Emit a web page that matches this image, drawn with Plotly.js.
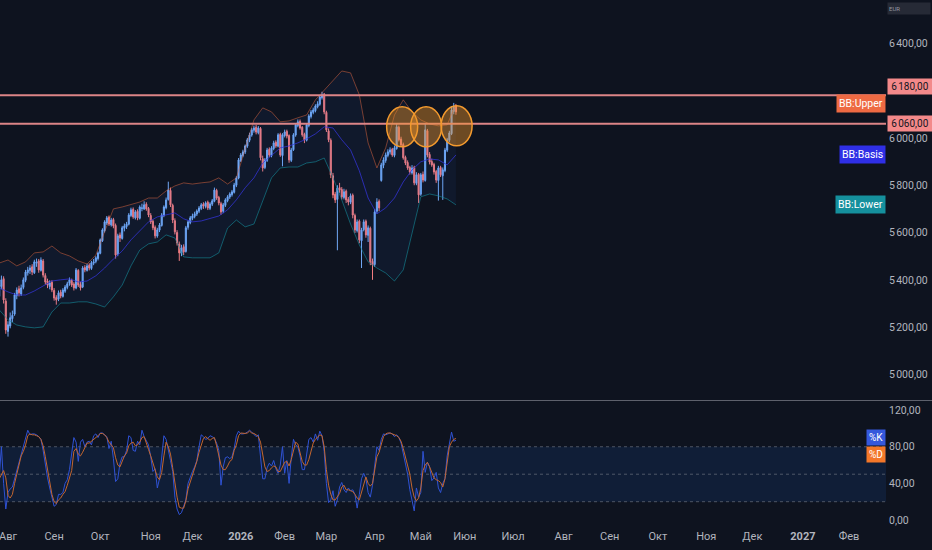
<!DOCTYPE html>
<html><head><meta charset="utf-8">
<script src="https://cdn.plot.ly/plotly-3.0.1.min.js"></script>
<style>html,body{margin:0;padding:0;background:#0e131f;}#chart{width:932px;height:550px;}</style>
</head><body><div id="chart"></div>
<script>
const firstDay = '2025-07-28';
const holidays = ['2025-09-01','2025-11-27','2025-12-25','2026-01-01','2026-01-19','2026-02-16','2026-04-03','2026-05-25'];

const openP = [
5330,5372,5405,5310,5182,5205,5236,5255,5333,5362,
5340,5368,5398,5430,5440,5455,5430,5470,5480,5440,
5480,5418,5395,5372,5390,5355,5325,5318,5348,5330,
5352,5368,5385,5398,5382,5365,5440,5380,5370,5452,
5440,5462,5448,5470,5478,5490,5512,5565,5608,5640,
5665,5632,5655,5630,5510,5590,5575,5618,5625,5635,
5672,5698,5662,5690,5660,5702,5700,5720,5702,5672,
5648,5622,5585,5610,5630,5672,5705,5740,5778,5715,
5650,5600,5552,5512,5540,5520,5622,5642,5660,5668,
5678,5690,5702,5720,5710,5728,5702,5720,5732,5778,
5748,5722,5690,5715,5735,5750,5760,5770,5800,5830,
5905,5926,5940,5965,5990,6012,6032,6045,6022,6040,
5912,5875,5905,5952,5925,5955,5982,5965,6015,5925,
6010,6028,6010,5905,5950,6012,6052,6070,6045,6015,
5990,6052,6090,6108,6115,6132,6142,6170,6185,6108,
6030,5990,5840,5762,5740,5790,5782,5748,5775,5740,
5728,5758,5672,5608,5648,5565,5612,5648,5588,5618,
5478,5465,5690,5732,5820,5884,5905,5926,5940,5952,
5926,5955,6045,5995,5972,5918,5896,5875,5852,5875,
5808,5846,5762,5846,5820,6030,5930,5900,5888,5858,
5820,5875,5840,5862,5948,5990,6018,6112,6138];
const highP = [
5395,5418,5415,5322,5225,5262,5270,5345,5368,5375,
5380,5410,5442,5455,5462,5466,5485,5490,5488,5495,
5488,5428,5405,5398,5398,5365,5335,5355,5358,5365,
5378,5392,5410,5405,5390,5450,5445,5392,5458,5462,
5468,5470,5480,5488,5500,5520,5575,5618,5652,5670,
5672,5662,5662,5638,5595,5600,5628,5638,5645,5682,
5705,5706,5695,5698,5715,5722,5732,5728,5708,5682,
5655,5630,5620,5640,5682,5715,5748,5815,5790,5722,
5660,5610,5562,5548,5550,5628,5652,5670,5680,5688,
5698,5712,5725,5728,5732,5735,5728,5742,5790,5785,
5755,5730,5725,5745,5758,5770,5780,5810,5838,5915,
5936,5950,5972,6000,6022,6042,6052,6055,6050,6046,
5925,5915,5958,5960,5965,5988,5990,6020,6022,6020,
6035,6035,6015,5958,6020,6062,6078,6078,6050,6022,
6062,6100,6118,6128,6142,6155,6180,6195,6190,6115,
6040,5998,5852,5772,5800,5810,5792,5785,5782,5750,
5765,5765,5680,5655,5655,5620,5655,5655,5630,5625,
5490,5700,5745,5740,5895,5918,5938,5952,5960,5958,
5968,6060,6052,6005,5980,5925,5905,5882,5885,5882,
5855,5852,5852,5858,6062,6038,5940,5912,5895,5865,
5882,5882,5875,5958,6000,6030,6135,6148,6142];
const lowP = [
5320,5360,5300,5172,5160,5195,5222,5248,5318,5330,
5332,5360,5390,5418,5425,5420,5425,5455,5430,5435,
5410,5380,5365,5360,5348,5312,5295,5310,5322,5325,
5345,5360,5375,5370,5355,5360,5370,5355,5365,5432,
5435,5440,5442,5462,5470,5482,5508,5560,5600,5632,
5628,5625,5618,5490,5500,5560,5570,5605,5615,5630,
5665,5658,5655,5652,5655,5690,5695,5692,5665,5636,
5610,5575,5578,5602,5625,5665,5698,5735,5708,5640,
5592,5545,5480,5500,5505,5515,5612,5635,5652,5660,
5670,5682,5695,5700,5702,5695,5695,5712,5728,5738,
5715,5675,5682,5708,5728,5742,5752,5765,5792,5825,
5898,5918,5932,5958,5982,6005,6022,6015,6015,5905,
5858,5868,5898,5918,5918,5948,5958,5960,5920,5880,
6002,5998,5895,5898,5945,6005,6045,6035,6005,5978,
5985,6045,6082,6100,6108,6125,6136,6162,6100,6025,
5982,5830,5745,5725,5525,5768,5740,5740,5725,5715,
5720,5660,5598,5600,5555,5450,5605,5578,5560,5462,
5400,5455,5680,5690,5815,5872,5895,5918,5930,5920,
5918,5950,5985,5962,5908,5885,5865,5845,5845,5800,
5800,5725,5755,5812,5815,5918,5888,5878,5845,5810,
5735,5835,5738,5855,5940,5982,6012,6100,6098];
const closeP = [
5378,5400,5315,5188,5210,5240,5250,5336,5357,5345,
5366,5400,5433,5442,5450,5433,5476,5476,5442,5484,
5420,5391,5378,5387,5357,5323,5315,5345,5332,5357,
5370,5383,5400,5378,5366,5442,5378,5366,5450,5442,
5459,5450,5472,5476,5493,5514,5569,5611,5645,5662,
5636,5653,5628,5505,5586,5577,5620,5628,5636,5674,
5696,5666,5687,5662,5708,5704,5717,5700,5674,5645,
5620,5586,5611,5632,5674,5708,5738,5780,5717,5653,
5603,5556,5514,5535,5518,5620,5645,5662,5670,5679,
5691,5704,5717,5712,5725,5704,5721,5734,5780,5746,
5725,5687,5717,5738,5751,5763,5772,5801,5831,5907,
5928,5941,5966,5992,6013,6034,6042,6025,6042,5916,
5873,5907,5949,5928,5958,5979,5966,6013,5928,6013,
6025,6008,5907,5949,6013,6055,6068,6042,6013,5992,
6055,6093,6110,6118,6135,6144,6173,6182,6110,6034,
5992,5844,5759,5738,5788,5780,5751,5772,5738,5729,
5755,5674,5611,5645,5569,5611,5645,5590,5620,5476,
5463,5687,5729,5704,5886,5907,5928,5941,5949,5928,
5958,6047,5992,5970,5916,5894,5873,5856,5873,5810,
5844,5759,5844,5822,6034,5928,5898,5886,5856,5822,
5873,5844,5865,5949,5992,6021,6118,6135,6110];

// Bollinger bands, read every 4th bar
const bbUpper = [5471,5484,5459,5476,5514,5518,5543,5514,5501,5480,5467,5505,5603,5700,5708,5717,5729,5746,5746,5776,5797,5810,5805,5810,5814,5831,5805,5831,5949,6076,6127,6110,6068,6072,6085,6097,6161,6203,6245,6283,6275,6182,5979,5873,5958,6097,6161,6110,6076,6059,6051,6055,6144];
const bbBasis = [5366,5349,5336,5336,5353,5374,5395,5400,5404,5391,5395,5417,5450,5488,5522,5569,5607,5645,5666,5674,5683,5658,5645,5649,5658,5670,5696,5738,5789,5831,5894,5924,5958,5966,5979,5996,6017,6047,6042,5992,5949,5861,5746,5679,5704,5746,5814,5865,5899,5911,5907,5886,5928];
const bbLower = [5273,5231,5209,5201,5197,5201,5264,5302,5302,5307,5307,5298,5285,5328,5378,5459,5526,5552,5560,5590,5577,5497,5493,5493,5493,5514,5619,5653,5624,5636,5738,5831,5873,5877,5877,5894,5899,5915,5831,5738,5636,5548,5476,5450,5429,5395,5442,5590,5751,5763,5755,5742,5717];

const stochK = [
47,80,40,12,30,34,36,45,55,65,
73,83,92,98,93,94,94,93,91,88,
76,60,46,35,24,15,17,28,28,30,
40,44,55,75,90,85,64,85,88,80,
85,86,82,92,94,90,95,95,93,91,
78,86,67,42,45,62,69,69,76,92,
90,76,75,86,82,98,91,87,82,69,
53,56,35,45,70,92,88,78,65,53,
25,12,6,8,14,22,40,47,53,58,
65,80,93,91,88,89,92,91,89,84,
76,38,58,68,69,67,69,78,92,97,
94,94,94.5,96,98,96,93,91,93,70,
45,45,57,62,59,65,56,51,60,80,
51,65,40,68,88,82,80,70,55,55,
70,88,90,85,94,87,97,92,75,40,
19,22,32,15,22,36,41,33,30,35,
32,33,28,13,28,45,51,45,30,25,
38,62,80,76,88,94,93,94,95,94,
91,93,90,84,72,63,50,33,22,10,
35,25,30,75,52,63,58,43,46,52,
35,30,40,45,70,84,96,86,87];
const stochD = [
45,50,54,46,27,24,28,40,50,62,
70,75,82,92,94,93,93,92,91,88,
81,69,56,45,28,20,18,22,24,28,
31,38,45,54,75,78,72,70,74,80,
84,84,86,87,89,92,94.5,94.5,93,90,
85,82,79,68,60,58,64,70,73,81,
84,85,81,82,85,90,91,85,77,70,
62,53,47,44,52,70,85,80,72,57,
40,25,14,13,13,21,34,41,50,56,
64,74,83,89,91,89,87,89,90,81,
72,60,55,55,59,64,66,76,82,92,
95,94.5,94.5,95,97,95,94.5,93,91,85,
69,58,53,54,57,59,58,53,53,59,
63,64,59,66,76,85,83,73,64,60,
60,66,75,84,88,90,93,92,80,55,
38,28,22,22,25,29,36,38,33,33,
32,31,28,24,22,30,38,47,40,37,
40,55,69,74,83,91,94,95,95,94,
93,92,90,86,78,68,58,50,35,25,
21,24,35,54,60,63,58,52,46,44,
43,41,36,45,60,80,85,88,89];

const monthTicks = ['2025-08-01','2025-09-02','2025-10-01','2025-11-03','2025-12-01','2026-01-02','2026-02-02','2026-03-02','2026-04-01','2026-05-01','2026-06-01','2026-07-01','2026-08-03','2026-09-01','2026-10-01','2026-11-02','2026-12-01','2027-01-01','2027-02-01'];
const monthLabels = ['Авг','Сен','Окт','Ноя','Дек','<b>2026</b>','Фев','Мар','Апр','Май','Июн','Июл','Авг','Сен','Окт','Ноя','Дек','<b>2027</b>','Фев'];
const priceTicks = [5000,5200,5400,5600,5800,6000,6400];
const stochTicks = [0,40,80,120];
const levels = [6180, 6060];
const circleDates = ['2026-04-20 12:00','2026-05-05 10:00','2026-05-26 07:00'];
const circlePrices = [6047, 6047, 6051];

function fmt(v){
  const s = v.toFixed(2).split('.');
  return s[0].replace(/\B(?=(\d{3})+(?!\d))/g,'\u202f') + ',' + s[1];
}

const dates = [];
{
  const d = new Date(firstDay + 'T00:00:00Z');
  while (dates.length < closeP.length) {
    const dow = d.getUTCDay();
    const iso = d.toISOString().slice(0,10);
    if (dow !== 0 && dow !== 6 && !holidays.includes(iso)) dates.push(iso);
    d.setUTCDate(d.getUTCDate() + 1);
  }
}
const bandDates = dates.filter((_, i) => i % 4 === 0);

const FONT = 'Roboto, sans-serif';
const UP = '#72a9f6', DOWN = '#f27c80';
const traces = [
  {type:'scatter', mode:'lines', x:bandDates, y:bbUpper, line:{color:'rgba(226,104,64,0.5)', width:1}, hoverinfo:'skip', yaxis:'y'},
  {type:'scatter', mode:'lines', x:bandDates, y:bbLower, line:{color:'rgba(22,140,155,0.6)', width:1}, fill:'tonexty', fillcolor:'rgba(40,120,220,0.07)', hoverinfo:'skip', yaxis:'y'},
  {type:'scatter', mode:'lines', x:bandDates, y:bbBasis, line:{color:'rgba(52,52,220,0.75)', width:1}, hoverinfo:'skip', yaxis:'y'},
  {type:'candlestick', x:dates, open:openP, high:highP, low:lowP, close:closeP, yaxis:'y',
   increasing:{line:{color:UP, width:1}, fillcolor:UP},
   decreasing:{line:{color:DOWN, width:1}, fillcolor:DOWN},
   hoverinfo:'skip'},
  {type:'scatter', mode:'lines', x:dates, y:stochK, line:{color:'#2f52d4', width:1}, yaxis:'y2', hoverinfo:'skip'},
  {type:'scatter', mode:'lines', x:dates, y:stochD, line:{color:'#c4662f', width:1}, yaxis:'y2', hoverinfo:'skip'}
];

const shapes = [
  {type:'rect', xref:'paper', x0:0, x1:1, yref:'y2', y0:20, y1:80, fillcolor:'rgba(30,110,215,0.13)', line:{width:0}, layer:'below'},
  ...[80,50,20].map(v => ({type:'line', xref:'paper', x0:0, x1:1, yref:'y2', y0:v, y1:v, line:{color:'rgba(130,134,146,0.55)', width:1, dash:'dot'}, layer:'below'})),
  {type:'line', xref:'paper', x0:0, x1:1.06, yref:'paper', y0:0.2415, y1:0.2415, line:{color:'#60636e', width:1}},
  ...levels.map(v => ({type:'line', xref:'paper', x0:0, x1:1, yref:'y', y0:v, y1:v, line:{color:'#dc8587', width:2}})),
  ...circleDates.map((d, k) => ({type:'circle', xref:'x', yref:'y', xsizemode:'pixel', ysizemode:'pixel',
     xanchor:d, yanchor:circlePrices[k], x0:-15.5, x1:15.5, y0:-20, y1:20,
     fillcolor:'rgba(240,150,40,0.42)', line:{color:'#f39a2e', width:1.5}}))
];

const annFont = {family:FONT, color:'#ffffff', size:10.5};
const priceBoxFont = {family:FONT, color:'#131722', size:10};
const annotations = [
  {xref:'paper', x:1, xanchor:'right', yref:'y', y:bbUpper[bbUpper.length-1], text:'BB:Upper', showarrow:false, bgcolor:'#ee6a43', font:annFont, borderpad:2},
  {xref:'paper', x:1, xanchor:'right', yref:'y', y:bbBasis[bbBasis.length-1], text:'BB:Basis', showarrow:false, bgcolor:'#2f2fe6', font:annFont, borderpad:2},
  {xref:'paper', x:1, xanchor:'right', yref:'y', y:bbLower[bbLower.length-1], text:'BB:Lower', showarrow:false, bgcolor:'#15909d', font:annFont, borderpad:2},
  {xref:'paper', x:1, xanchor:'left', xshift:1, yref:'y', y:levels[0], yshift:9, text:fmt(levels[0]), showarrow:false, bgcolor:'#f3898a', font:priceBoxFont, width:40, borderpad:2},
  {xref:'paper', x:1, xanchor:'left', xshift:1, yref:'y', y:levels[1], text:fmt(levels[1]), showarrow:false, bgcolor:'#f3898a', font:priceBoxFont, width:40, borderpad:2},
  {xref:'paper', x:1, xanchor:'right', yref:'y2', y:90.6, text:'%K', showarrow:false, bgcolor:'#3558dc', font:{family:FONT, color:'#ffffff', size:10}, borderpad:2},
  {xref:'paper', x:1, xanchor:'right', yref:'y2', y:71.5, text:'%D', showarrow:false, bgcolor:'#f37729', font:{family:FONT, color:'#ffffff', size:10}, borderpad:2},
  {xref:'paper', x:1, xanchor:'left', xshift:1, yref:'paper', y:1, yanchor:'top', yshift:-2, text:'EUR', showarrow:false, bgcolor:'#262a36', font:{family:FONT, color:'#9598a1', size:6}, width:40, height:9, align:'left'}
];

const layout = {
  width:932, height:550,
  paper_bgcolor:'#0e131f', plot_bgcolor:'#0e131f',
  margin:{l:0, r:46, t:0, b:22},
  showlegend:false, hovermode:false, dragmode:false,
  font:{family:FONT, color:'#b2b5be', size:11},
  xaxis:{type:'date', range:['2025-07-28 08:34','2027-02-23 20:24'],
    rangebreaks:[{bounds:['sat','mon']},{values:holidays}],
    rangeslider:{visible:false}, anchor:'y2', showgrid:false, zeroline:false, showline:false,
    ticks:'', tickvals:monthTicks, ticktext:monthLabels, tickfont:{size:11, color:'#b2b5be'},
    ticklabeloverflow:'allow', automargin:false},
  yaxis:{domain:[0.2424,1], range:[4892,6583], side:'right', anchor:'x', showgrid:false, zeroline:false, showline:false,
    tickvals:priceTicks, ticktext:priceTicks.map(fmt), ticks:'', ticklabelstandoff:2, automargin:false, tickfont:{size:10.5, color:'#b2b5be'}},
  yaxis2:{domain:[0,0.2405], range:[-8.7,129.9], side:'right', anchor:'x', showgrid:false, zeroline:false, showline:false,
    tickvals:stochTicks, ticktext:stochTicks.map(fmt), ticks:'', ticklabelstandoff:2, automargin:false, tickfont:{size:10.5, color:'#b2b5be'}},
  shapes, annotations
};

Plotly.newPlot('chart', traces, layout, {staticPlot:true, displayModeBar:false});
</script>
</body></html>
